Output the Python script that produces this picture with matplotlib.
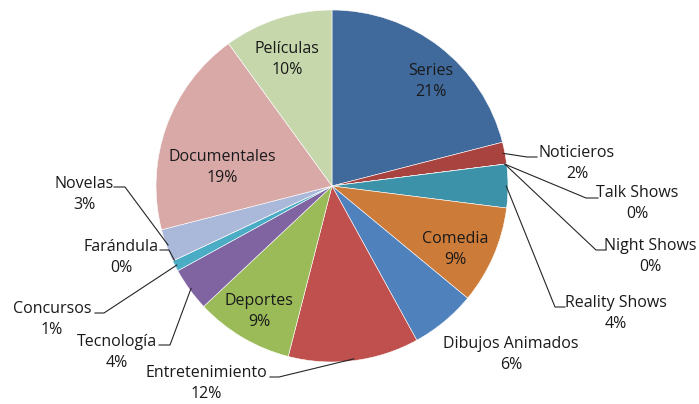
import numpy as np
import matplotlib
matplotlib.use("Agg")
import matplotlib.pyplot as plt

plt.rcParams['font.family'] = ['Open Sans', 'DejaVu Sans']

# Programming preferences (share of viewers, %)
categories = ["Series", "Noticieros", "Talk Shows", "Night Shows", "Reality Shows",
              "Comedia", "Dibujos Animados", "Entretenimiento", "Deportes", "Tecnología",
              "Concursos", "Farándula", "Novelas", "Documentales", "Películas"]
values = [21, 2, 0, 0, 4, 9, 6, 12, 9, 4, 1, 0, 3, 19, 10]

colors = ["#40699C", "#A9433F", "#86A34B", "#6F5690", "#3C92A8", "#CD7B39",
          "#4F81BD", "#C0504D", "#9BBB59", "#8064A2", "#4BACC6", "#F79646",
          "#AAB9D9", "#D9A9A8", "#C6D7AC"]

W, H = 699, 404
CX, CY, R = 332, 186, 176

fig = plt.figure(figsize=(W / 100, H / 100), dpi=100)
ax = fig.add_axes([(CX - R) / W, 1 - (CY + R) / H, 2 * R / W, 2 * R / H])

wedges, _ = ax.pie(values, colors=colors, startangle=90, counterclock=False,
                   radius=1.0, center=(0, 0),
                   wedgeprops=dict(edgecolor="white", linewidth=0.4))
ax.set_xlim(-1, 1)
ax.set_ylim(-1, 1)
ax.axis("off")


def to_data(px, py):
    return (px - CX) / R, (CY - py) / R


# label layout: (text centre x, y of first line) in pixels, optional elbow of leader
layout = {
    "Series": ((431, 71), None),
    "Noticieros": ((577, 153), [(537, 157), (527, 157)]),
    "Talk Shows": ((637, 193), [(598, 198), (586, 198)]),
    "Night Shows": ((650, 246), [(606, 250), (596, 250)]),
    "Reality Shows": ((616, 303), [(565, 307), (555, 307)]),
    "Comedia": ((455, 239), None),
    "Dibujos Animados": ((511, 344), None),
    "Entretenimiento": ((206, 373), [(270, 377), (279, 377)]),
    "Deportes": ((259, 301), None),
    "Tecnología": ((117, 342), [(159, 345), (170, 345)]),
    "Concursos": ((52, 309), [(95, 313), (104, 313)]),
    "Farándula": ((121, 247), [(160, 250), (169, 250)]),
    "Novelas": ((84, 184), [(114, 187), (125, 187)]),
    "Documentales": ((222, 157), None),
    "Películas": ((287, 49), None),
}

fs = 11.5
for w, name, v in zip(wedges, categories, values):
    (tx, ty), leader = layout[name]
    ax.text(*to_data(tx, ty + 10.5), f"{name}\n{v}%", ha="center", va="center",
            fontsize=fs, color="#1a1a1a", linespacing=1.42,
            transform=ax.transData, clip_on=False)
    if leader:
        mid = np.deg2rad((w.theta1 + w.theta2) / 2)
        ex, ey = 0.99 * np.cos(mid), 0.99 * np.sin(mid)
        pts = [to_data(*p) for p in leader] + [(ex, ey)]
        xs, ys = zip(*pts)
        ax.plot(xs, ys, color="#262626", linewidth=0.8, clip_on=False,
                solid_joinstyle="miter")

fig.savefig("out.png", dpi=100, facecolor="white")
